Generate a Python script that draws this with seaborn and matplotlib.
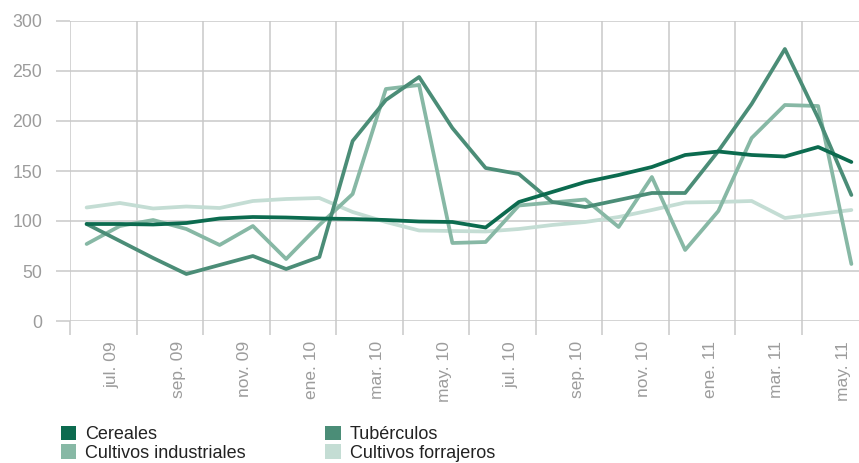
import numpy as np
import pandas as pd
import matplotlib
matplotlib.use("Agg")
import matplotlib.pyplot as plt
from matplotlib.patches import Patch
from matplotlib.transforms import ScaledTranslation
import seaborn as sns

# Monthly index values, June 2009 – May 2011
months = ["jun. 09", "jul. 09", "ago. 09", "sep. 09", "oct. 09", "nov. 09",
          "dic. 09", "ene. 10", "feb. 10", "mar. 10", "abr. 10", "may. 10",
          "jun. 10", "jul. 10", "ago. 10", "sep. 10", "oct. 10", "nov. 10",
          "dic. 10", "ene. 11", "feb. 11", "mar. 11", "abr. 11", "may. 11"]

cereales = [97, 97, 96.5, 98, 102.5, 104, 103.5, 102.5, 102, 101, 99.5, 99,
            93.5, 119, 129, 139, 146, 154, 166, 169.5, 166, 164.5, 174, 159]
tuberculos = [97, 80, 63, 47, 56, 65, 52, 64, 180, 221, 244, 193,
              153, 147, 119, 114, 121, 128, 128, 170, 217, 272, 203, 126]
industriales = [77, 95, 101, 92, 76, 95, 62, 96, 127, 232, 236, 78,
                79, 115.5, 118.5, 121.5, 94, 144, 71, 110, 183, 216, 215, 57]
forrajeros = [113.5, 118, 112.5, 114.5, 113, 120, 122, 123, 109, 99, 90.5, 90,
              89.5, 92, 96, 99, 104, 111, 118.5, 119, 120, 103, 107, 111]

series_names = ["Cereales", "Tubérculos", "Cultivos industriales", "Cultivos forrajeros"]
series_values = [cereales, tuberculos, industriales, forrajeros]
colors = {
    "Cereales": "#0c6b4f",
    "Tubérculos": "#4b8d77",
    "Cultivos industriales": "#87b8a5",
    "Cultivos forrajeros": "#c4ddd4",
}

df = pd.concat(
    [pd.DataFrame({"idx": np.arange(len(months)), "mes": months, "serie": n, "valor": v})
     for n, v in zip(series_names, series_values)],
    ignore_index=True,
)

sns.set_theme(style="white")
plt.rcParams["font.family"] = ["Liberation Sans", "DejaVu Sans"]

grid_c = "#c9c9c9"
tick_c = "#9c9c9c"

fig = plt.figure(figsize=(8.59, 4.63), dpi=100)
W, H = 859, 463
ax = fig.add_axes([70 / W, 1 - 321 / H, 1 - 70 / W, 300 / H])

draw_order = ["Cultivos forrajeros", "Cultivos industriales", "Tubérculos", "Cereales"]
sns.lineplot(data=df, x="idx", y="valor", hue="serie", hue_order=draw_order,
             palette=colors, linewidth=2.7, legend=False, ax=ax)

step = 33.25  # px per month
ax.set_xlim(-0.5, -0.5 + (W - 70) / step)
ax.set_ylim(0, 300)

# vertical grid at two-month boundaries, labels on odd months
ax.set_xticks(np.arange(-0.5, len(months) - 1, 2))
ax.set_xticklabels([])
ax.set_xticks(np.arange(1, len(months), 2), minor=True)
ax.set_xticklabels(months[1::2], minor=True, rotation=90, fontsize=12.5, color=tick_c)
ax.set_yticks(np.arange(0, 301, 50))
ax.set_yticklabels([str(v) for v in range(0, 301, 50)], fontsize=12.8, color=tick_c)

ax.tick_params(axis="x", which="major", length=10, width=1.1, color=grid_c, bottom=True)
ax.tick_params(axis="x", which="minor", length=0, pad=14.5)
ax.tick_params(axis="y", which="major", length=10, width=1.1, color=grid_c, left=True, pad=10)

for lab in ax.get_xticklabels(minor=True):
    lab.set_transform(lab.get_transform() + ScaledTranslation(-8 / 100, 0, fig.dpi_scale_trans))

ax.grid(True, which="major", color=grid_c, linewidth=1.1)
ax.set_axisbelow(True)
for s in ax.spines.values():
    s.set_visible(False)
ax.set_xlabel("")
ax.set_ylabel("")

legend_order = ["Cereales", "Cultivos industriales", "Tubérculos", "Cultivos forrajeros"]
handles = [Patch(facecolor=colors[n], edgecolor="none", label=n) for n in legend_order]
fig.legend(handles=handles, loc="upper left", bbox_to_anchor=(61 / W, 1 - 426 / H),
           ncol=2, frameon=False, fontsize=13, handlelength=0.85, handleheight=0.85,
           handletextpad=0.5, columnspacing=4.4, labelspacing=0.05, borderpad=0,
           borderaxespad=0, labelcolor="#222222")

fig.savefig("out.png", dpi=100)
